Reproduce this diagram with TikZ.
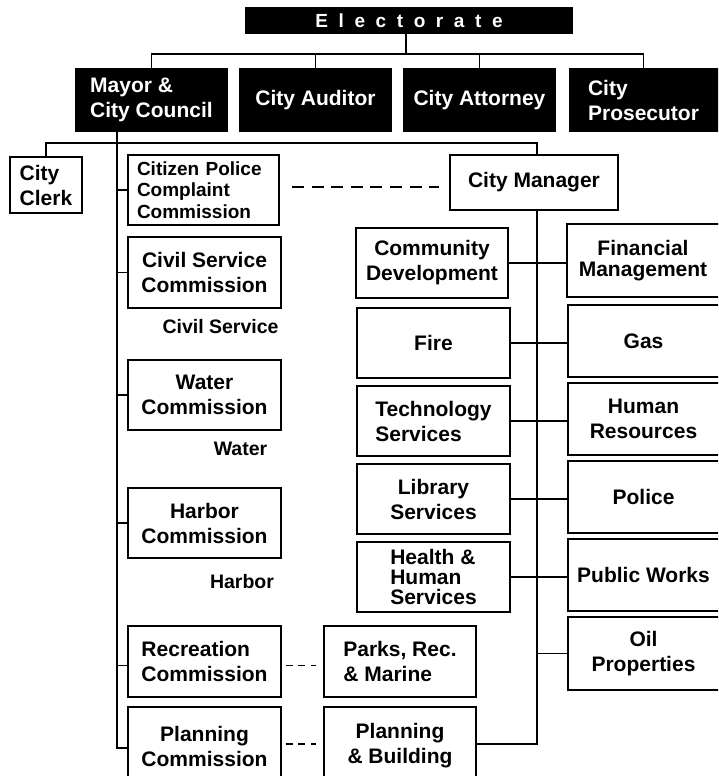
\documentclass[tikz,border=0pt]{standalone}
\usepackage{fontspec}
\setmainfont{Liberation Sans}
\newcommand{\lsp}{\hspace{10.6pt}}
\begin{document}
\begin{tikzpicture}[x=1pt,y=-1pt,
  ln/.style={line width=1.8pt},
  box/.style={draw, line width=1.8pt, inner sep=0pt, align=center,
    font=\fontsize{21}{25}\selectfont\bfseries},
  rbox/.style={box, draw=none},
  bbox/.style={fill=black, text=white, inner sep=0pt, align=left,
    font=\fontsize{21}{25}\selectfont\bfseries},
  lab/.style={inner sep=0pt, font=\fontsize{19.5}{22}\selectfont\bfseries},
  dsh/.style={ln, dash pattern=on 12pt off 7.6pt},
  dshs/.style={ln, dash pattern=on 7pt off 5.5pt},
  line join=miter]
\useasboundingbox (0,0) rectangle (718,776);
\clip (0,0) rectangle (718,776);

% top row
\node[bbox, minimum width=328pt, minimum height=27pt,
  font=\fontsize{19}{21}\selectfont\bfseries] (el) at (409,20.5)
  {E\lsp l\lsp e\lsp c\lsp t\lsp o\lsp r\lsp a\lsp t\lsp e};
\node[bbox, minimum width=153pt, minimum height=64pt] (mayor) at (151.5,100) {Mayor \&\\City Council};
\node[bbox, minimum width=153pt, minimum height=64pt] (aud) at (315.5,100) {City Auditor};
\node[bbox, minimum width=153pt, minimum height=64pt] (att) at (479.5,100) {City Attorney};
\node[bbox, minimum width=149pt, minimum height=64pt] (pros) at (643.5,100) {City\\Prosecutor};
\fill ([xshift=-1pt]pros.north east) rectangle ([xshift=12pt]pros.south east);

% second level
\node[box, minimum width=72pt, minimum height=56pt, align=left] (clerk) at (46,185) {City\\Clerk};
\node[box, text width=133pt, inner xsep=9pt, inner ysep=0pt, minimum height=70pt, align=left,
  font=\fontsize{19}{21.5}\selectfont\bfseries] (cit) at (203.5,190) {Citizen Police\\Complaint\\Commission};
\node[box, minimum width=168pt, minimum height=55pt] (mgr) at (534,182.5) {City Manager};

% commissions
\node[box, minimum width=153pt, minimum height=71pt] (civ) at (204.5,272.5) {Civil Service\\Commission};
\node[box, minimum width=153pt, minimum height=70pt] (wat) at (204.5,395) {Water\\Commission};
\node[box, minimum width=153pt, minimum height=70pt] (har) at (204.5,523) {Harbor\\Commission};
\node[box, minimum width=153pt, minimum height=71pt, align=left] (rec) at (204.5,661.5) {Recreation\\Commission};
\node[box, minimum width=153pt, minimum height=78pt] (pc) at (204.5,746) {Planning\\Commission};
\node[box, minimum width=152pt, minimum height=71pt, align=left] (prk) at (400,661.5) {Parks, Rec.\\\& Marine};
\node[box, minimum width=152pt, minimum height=78pt] (pb) at (400,746) {Planning\\\& Building};

\node[lab] (lcs) at (220.5,327) {Civil Service};
\node[lab] (lw) at (240.5,449) {Water};
\node[lab] (lh) at (242,582) {Harbor};

% departments, left column
\node[box, minimum width=152pt, minimum height=70pt] (cd) at (432,263) {Community\\Development};
\node[box, minimum width=153pt, minimum height=70pt] (fire) at (433.5,343) {Fire};
\node[box, minimum width=153pt, minimum height=70pt, align=left] (tech) at (433.5,421) {Technology\\Services};
\node[box, minimum width=153pt, minimum height=70pt] (lib) at (433.5,499) {Library\\Services};
\node[box, minimum width=153pt, minimum height=70pt, align=left,
  font=\fontsize{21}{20}\selectfont\bfseries] (hhs) at (433.5,577) {Health \&\\Human\\Services};

% departments, right column (cut off by the right edge)
\node[rbox, minimum width=150pt, minimum height=71pt,
  font=\fontsize{21}{21.5}\selectfont\bfseries] (fin) at (643,260.5) {Financial\\Management};
\node[rbox, minimum width=149pt, minimum height=70pt] (gas) at (643.5,341) {Gas};
\node[rbox, minimum width=149pt, minimum height=70pt] (hr) at (643.5,419) {Human\\Resources};
\node[rbox, minimum width=149pt, minimum height=70pt] (pol) at (643.5,497) {Police};
\node[rbox, minimum width=149pt, minimum height=70pt] (pw) at (643.5,575) {Public Works};
\node[rbox, minimum width=149pt, minimum height=71pt] (oil) at (643.5,653.5) {Oil\\Properties};
\foreach \n in {fin,gas,hr,pol,pw,oil}
  \draw[ln] ([xshift=15pt]\n.north east) -- (\n.north west) -- (\n.south west) -- ([xshift=15pt]\n.south east);

% connectors, top
\coordinate (bus) at (0,54);
\coordinate (els) at ([xshift=-3pt]el.south);
\draw[ln] (els) -- (els |- bus);
\draw[ln] (mayor.north) -- (mayor.north |- bus) -- (pros.north |- bus) -- (pros.north);
\draw[ln] (aud.north) -- (aud.north |- bus);
\draw[ln] (att.north) -- (att.north |- bus);

% mayor trunk
\coordinate (mtr) at ([xshift=-34.5pt]mayor.south);
\coordinate (bus2) at (0,143);
\coordinate (mtk) at ([xshift=3pt]mgr.south);
\coordinate (mtn) at ([xshift=3pt]mgr.north);
\draw[ln] (clerk.north) -- (clerk.north |- bus2) -- (mtn |- bus2) -- (mtn);
\coordinate (pcw) at ([yshift=-2pt]pc.west);
\draw[ln] (mtr) -- (mtr |- pcw) -- (pcw);
\foreach \n in {cit,civ,wat,har}
  \draw[ln] (\n.west) -- (\n.west -| mtr);
\coordinate (recw) at ([yshift=-4pt]rec.west);
\draw[ln] (recw) -- (recw -| mtr);

% dashed links
\draw[dsh] ([xshift=12pt,yshift=3pt]cit.east) -- ([xshift=-10pt,yshift=3pt]cit.east -| mgr.west);
\draw[dshs] ([xshift=4pt,yshift=-4pt]rec.east) -- ([xshift=-7pt,yshift=-4pt]prk.west);
\draw[dshs] ([xshift=4pt,yshift=2pt]pc.east) -- ([xshift=-7pt,yshift=2pt]pb.west);

% manager trunk
\coordinate (pbe) at ([yshift=2pt]pb.east);
\draw[ln] (mtk) -- (mtk |- pbe) -- (pbe);
\foreach \l/\r in {cd/fin,fire/gas,tech/hr,lib/pol,hhs/pw}
  \draw[ln] (\l.east) -- (\l.east -| \r.west);
\draw[ln] (oil.west) -- (oil.west -| mtk);
\end{tikzpicture}
\end{document}
